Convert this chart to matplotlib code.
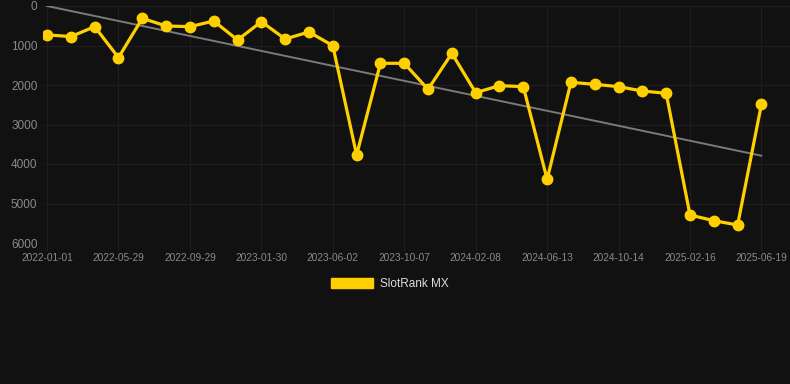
import matplotlib
matplotlib.use("Agg")
import matplotlib.pyplot as plt
import matplotlib.patches as mpatches

plt.rcParams['font.family'] = ['Liberation Sans', 'DejaVu Sans']

# Data (rank values per observation, evenly spaced categories)
ranks = [730, 775, 523, 1307, 312, 506, 523, 380, 860, 397, 835, 658, 1004, 3772,
         1451, 1451, 2109, 1198, 2194, 2016, 2042, 4388, 1932, 1983, 2042, 2152, 2210,
         5291, 5435, 5544, 2489]
tick_labels = ["2022-01-01", "2022-05-29", "2022-09-29", "2023-01-30", "2023-06-02",
               "2023-10-07", "2024-02-08", "2024-06-13", "2024-10-14", "2025-02-16",
               "2025-06-19"]
tick_step = 3
trend_start = 0
trend_end = 3790
series_name = "SlotRank MX"

bg = "#111111"
gold = "#FFD000"

fig = plt.figure(figsize=(7.9, 3.84), dpi=100, facecolor=bg)
ax = fig.add_axes([43/790, 1-243/384, 1-43/790, (243-6)/384], facecolor=bg)

x = list(range(len(ranks)))
ax.plot([x[0], x[-1]], [trend_start, trend_end], color="#7a7a7a", lw=1.4, zorder=2)
ax.plot(x, ranks, color=gold, lw=2.3, marker="o", markersize=7.5, zorder=3)

ax.set_ylim(6000, 0)
ax.set_xlim(-0.17, 31.2)
ax.set_yticks([0, 1000, 2000, 3000, 4000, 5000, 6000])
ax.set_xticks(x[::tick_step])
ax.set_xticklabels(tick_labels)
ax.grid(True, color="#1e1e1e", lw=0.8)
ax.axhline(6000, color="#2a2a2a", lw=0.8, zorder=1)
ax.set_axisbelow(True)
for s in ax.spines.values():
    s.set_visible(False)
ax.tick_params(axis='both', length=0, colors="#8a8a8a")
ax.tick_params(axis='x', length=6, color="#1e1e1e", width=0.8, pad=1, labelsize=7.3)
ax.tick_params(axis='y', labelsize=8.5, pad=4)

handle = mpatches.Patch(color=gold, label=series_name)
fig.legend(handles=[handle], loc="center", bbox_to_anchor=(390/790, 1-284/384),
           frameon=False, fontsize=8.5, labelcolor="#dddddd",
           handlelength=3.6, handleheight=1.0, handletextpad=0.6)

fig.savefig("out.png", dpi=100, facecolor=bg)
